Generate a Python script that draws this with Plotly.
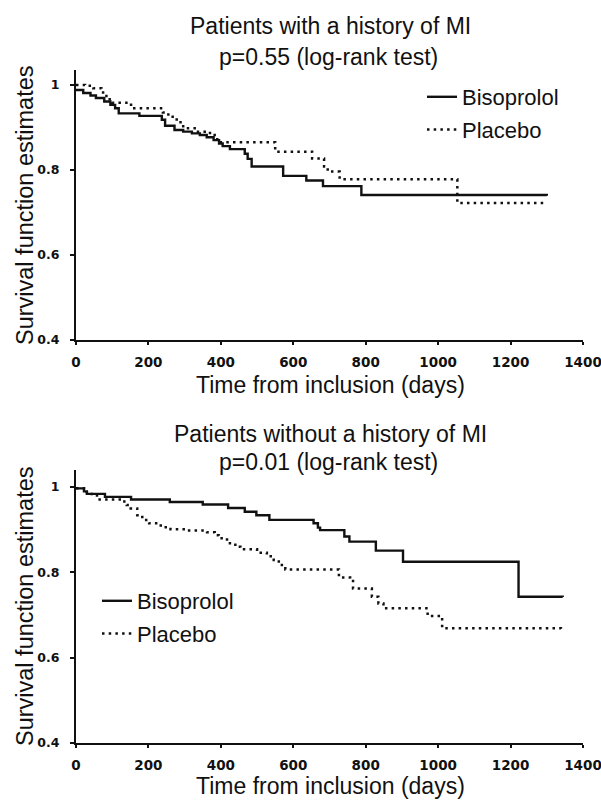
import plotly.graph_objects as go

# ---------------- data ----------------
# Top panel: patients with a history of MI
mi_biso_days = [0, 20, 40, 55, 78, 95, 108, 118, 175, 237, 246, 272, 296, 320, 342, 361, 380,
                395, 405, 425, 466, 474, 485, 572, 636, 682, 788, 1300]
mi_biso_surv = [0.988, 0.981, 0.975, 0.969, 0.961, 0.953, 0.945, 0.933, 0.927, 0.918, 0.904,
                0.894, 0.890, 0.886, 0.882, 0.877, 0.870, 0.862, 0.856, 0.849, 0.838, 0.826,
                0.808, 0.786, 0.775, 0.762, 0.741, 0.739]
mi_plac_days = [0, 25, 48, 70, 84, 100, 152, 240, 255, 278, 296, 333, 370, 390, 550, 652, 685,
                695, 728, 1053, 1295]
mi_plac_surv = [1.0, 0.998, 0.992, 0.982, 0.966, 0.958, 0.945, 0.935, 0.925, 0.912, 0.898,
                0.890, 0.882, 0.865, 0.843, 0.827, 0.808, 0.796, 0.778, 0.722, 0.720]

# Bottom panel: patients without a history of MI
nomi_biso_days = [0, 22, 30, 80, 152, 259, 350, 420, 466, 498, 534, 656, 668, 674, 741, 755,
                  828, 903, 1222, 1344]
nomi_biso_surv = [0.997, 0.990, 0.984, 0.977, 0.971, 0.965, 0.959, 0.951, 0.942, 0.934, 0.923,
                  0.915, 0.905, 0.899, 0.884, 0.872, 0.851, 0.825, 0.743, 0.742]
nomi_plac_days = [0, 30, 58, 128, 140, 151, 169, 183, 202, 234, 261, 303, 362, 383, 394, 417,
                  440, 454, 500, 527, 546, 560, 578, 726, 757, 765, 817, 835, 849, 971, 1011, 1339]
nomi_plac_surv = [0.997, 0.984, 0.971, 0.966, 0.958, 0.950, 0.934, 0.923, 0.915, 0.906, 0.901,
                  0.898, 0.894, 0.887, 0.880, 0.868, 0.860, 0.854, 0.846, 0.838, 0.829, 0.817,
                  0.807, 0.788, 0.784, 0.762, 0.743, 0.727, 0.716, 0.698, 0.669, 0.668]

x_ticks = [0, 200, 400, 600, 800, 1000, 1200, 1400]
y_ticks = [0.4, 0.6, 0.8, 1.0]
y_tick_labels = ["0.4", "0.6", "0.8", "1"]

titles_top = ["Patients with a history of MI", "p=0.55 (log-rank test)"]
titles_bottom = ["Patients without a history of MI", "p=0.01 (log-rank test)"]
x_title = "Time from inclusion (days)"
y_title = "Survival function estimates"
series_names = ["Bisoprolol", "Placebo"]

# ---------------- layout geometry ----------------
# The page's default body margin is removed (post_script below), so the
# figure fills the 601x801 window and reference pixels map directly.
W, H = 601, 801
PLOT_L, PLOT_R, PLOT_T, PLOT_B = 76, 583, 70, 743   # pixels of the plot frame
L, R, T, B = PLOT_L, W - PLOT_R, PLOT_T, H - PLOT_B
INK = "#111111"
TXT = "Liberation Sans, Arial, sans-serif"


def py(ypx):
    return (PLOT_B - ypx) / (PLOT_B - PLOT_T)


def px(xpx):
    return (xpx - PLOT_L) / (PLOT_R - PLOT_L)


solid = dict(color=INK, width=2.4, shape="hv")
dotted = dict(color=INK, width=2.5, shape="hv", dash="2.5px,4.2px")

fig = go.Figure()
fig.add_trace(go.Scatter(x=mi_biso_days, y=mi_biso_surv, mode="lines", line=solid,
                         name=series_names[0], legend="legend", legendgroup="a1"))
fig.add_trace(go.Scatter(x=mi_plac_days, y=mi_plac_surv, mode="lines", line=dotted,
                         name=series_names[1], legend="legend", legendgroup="a2"))
fig.add_trace(go.Scatter(x=nomi_biso_days, y=nomi_biso_surv, mode="lines", line=solid,
                         name=series_names[0], legend="legend2", legendgroup="b1",
                         xaxis="x2", yaxis="y2"))
fig.add_trace(go.Scatter(x=nomi_plac_days, y=nomi_plac_surv, mode="lines", line=dotted,
                         name=series_names[1], legend="legend2", legendgroup="b2",
                         xaxis="x2", yaxis="y2"))

xtickfont = dict(family="DejaVu Sans, sans-serif", size=13.5, color=INK, weight="bold")
ytickfont = dict(family="DejaVu Sans, sans-serif", size=12.5, color=INK, weight="bold")
xax = dict(range=[0, 1400], tickvals=x_ticks, ticks="outside", ticklen=3, tickwidth=1.5,
           tickcolor=INK, showline=True, linecolor=INK, linewidth=2, showgrid=False,
           zeroline=False, tickfont=xtickfont, ticklabelstandoff=6, domain=[0, 1],
           ticklabeloverflow="allow")
yax = dict(tickvals=y_ticks, ticktext=y_tick_labels, ticks="outside", ticklen=4,
           tickwidth=1.5, tickcolor=INK, showline=True, linecolor=INK, linewidth=2,
           showgrid=False, zeroline=False, tickfont=ytickfont, ticklabelstandoff=8)

legfont = dict(family=TXT, size=22, color=INK)

annotations = []


def add_text(text, x, y, size=23, angle=0):
    annotations.append(dict(text=text, xref="paper", yref="paper", x=x, y=y,
                            xanchor="center", yanchor="middle", showarrow=False,
                            textangle=angle, font=dict(family=TXT, size=size, color=INK)))


add_text(titles_top[0], px(330), py(26))
add_text(titles_top[1], px(328), py(57))
add_text(titles_bottom[0], px(330), py(434))
add_text(titles_bottom[1], px(328), py(462))
add_text(x_title, px(330), py(385))
add_text(x_title, px(330), py(786))
add_text(y_title, px(25), py(205), size=23.5, angle=-90)
add_text(y_title, px(25), py(606), size=23.5, angle=-90)

fig.update_layout(
    width=W, height=H,
    margin=dict(l=L, r=R, t=T, b=B, autoexpand=False),
    paper_bgcolor="white", plot_bgcolor="white",
    xaxis=dict(xax, anchor="y"),
    yaxis=dict(yax, range=[0.4, 1.035], domain=[py(340), 1.0], anchor="x"),
    xaxis2=dict(xax, anchor="y2"),
    yaxis2=dict(yax, range=[0.4, 1.04], domain=[0.0, py(470)], anchor="x2"),
    legend=dict(x=px(422), y=py(76), xanchor="left", yanchor="top", font=legfont,
                bgcolor="rgba(0,0,0,0)", tracegroupgap=1, itemwidth=30),
    legend2=dict(x=px(97), y=py(580), xanchor="left", yanchor="top", font=legfont,
                 bgcolor="rgba(0,0,0,0)", tracegroupgap=1, itemwidth=30),
    showlegend=True,
    annotations=annotations,
)

fig.write_html("out.html",
               config={"displayModeBar": False},
               post_script="document.body.style.margin='0px';"
                           "document.body.style.overflow='hidden';")
